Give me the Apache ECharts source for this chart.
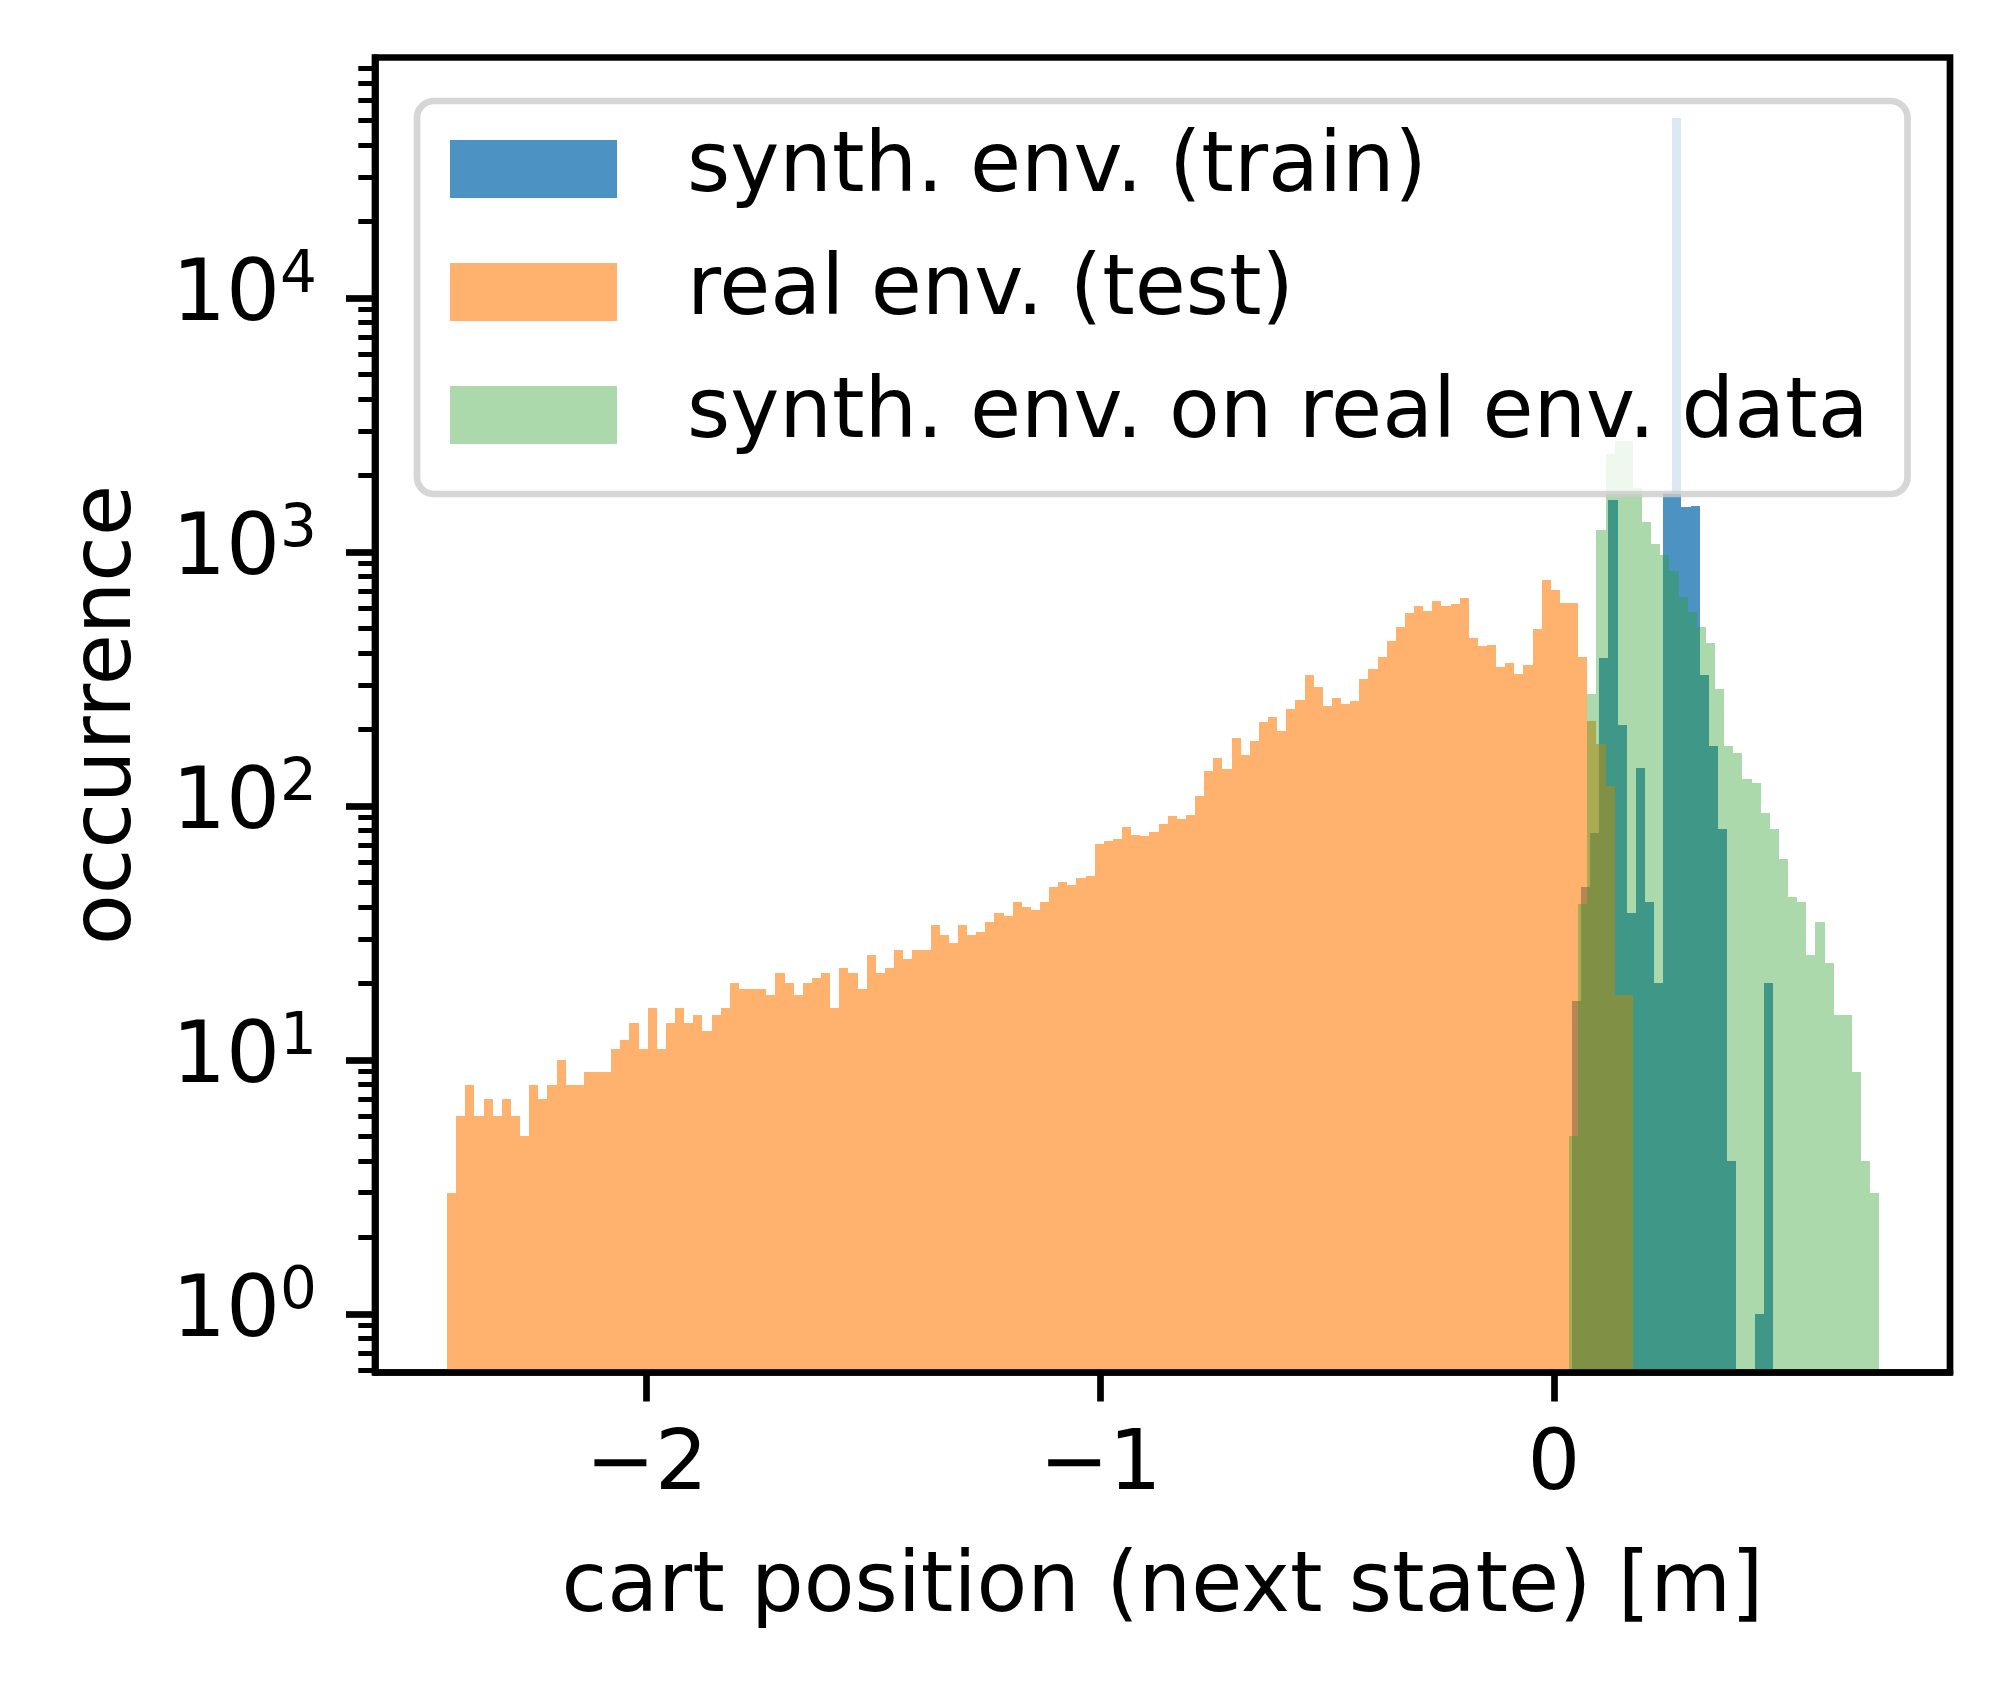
<!DOCTYPE html>
<html>
<head>
<meta charset="utf-8">
<script src="https://cdn.jsdelivr.net/npm/echarts@6/dist/echarts.min.js"></script>
<style>
  html, body { margin: 0; padding: 0; background: #fff; }
  #chart { width: 2010px; height: 1687px; }
</style>
</head>
<body>
<div id="chart"></div>
<script>
var font = "DejaVu Sans";

// histogram bins: first left edge, bin width, counts per bin
var realStart = -2.4402;
var realWidth = 0.02011;
var realCounts = [
  3, 6, 8, 6, 7, 6, 7, 6, 5, 8, 7, 8, 10, 8, 8, 9, 9, 9, 11, 12,
  14, 11, 16, 11, 14, 16, 14, 15, 13, 15, 16, 20, 19, 19, 19, 18, 22, 20, 18, 20,
  21, 22, 16, 23, 22, 19, 26, 22, 23, 27, 25, 27, 27, 34, 31, 29, 34, 31, 32, 35,
  38, 37, 42, 40, 39, 42, 48, 50, 49, 52, 53, 71, 73, 74, 83, 77, 76, 79, 85, 91,
  89, 92, 109, 137, 155, 140, 185, 159, 180, 214, 224, 197, 241, 261, 328, 294, 248, 266, 252, 259,
  316, 346, 386, 446, 507, 575, 613, 586, 641, 613, 624, 659, 459, 426, 430, 352, 366, 331, 359, 497,
  776, 709, 630, 630, 386, 216, 175, 120, 18, 18
];

var synthRealStart = 0.0333;
var synthRealWidth = 0.02011;
var synthRealCounts = [
  5, 41, 276, 1221, 2430, 2735, 2735, 1786, 1313, 1075, 973, 841, 665, 580, 507, 438, 289,
  172, 162, 128, 123, 94, 81, 62, 44, 42, 26, 35, 24, 15, 15, 9, 4, 3
];

var synthTrainStart = 0.0394;
var synthTrainWidth = 0.02014;
var synthTrainCounts = [
  17, 48, 78, 383, 1600, 208, 38, 141, 42, 20, 1700, 51300, 1507, 1518, 328, 172, 81, 4, 0, 0, 1, 20
];

var seriesNames = ["synth. env. (train)", "real env. (test)", "synth. env. on real env. data"];

var xTicks = [-2, -1, 0];
var yTicks = [1, 10, 100, 1000, 10000];
var yMinorTicks = [
  0.6, 0.7, 0.8, 0.9,
  2, 3, 4, 5, 6, 7, 8, 9,
  20, 30, 40, 50, 60, 70, 80, 90,
  200, 300, 400, 500, 600, 700, 800, 900,
  2000, 3000, 4000, 5000, 6000, 7000, 8000, 9000,
  20000, 30000, 40000, 50000, 60000, 70000, 80000
];

var xMin = -2.599, xMax = 0.873;
var yMin = 0.588, yMax = 88500;

function histSeries(name, start, width, counts, color) {
  var data = [];
  counts.forEach(function(c, i) {
    if (c > 0) data.push([start + i * width, start + (i + 1) * width, c]);
  });
  return {
    name: name,
    type: "custom",
    clip: true,
    data: data,
    encode: {x: [0, 1], y: 2},
    itemStyle: {color: color},
    renderItem: function(params, api) {
      var top = api.coord([api.value(0), api.value(2)]);
      var bottom = api.coord([api.value(1), yMin]);
      var x0 = Math.round(top[0]), x1 = Math.round(bottom[0]);
      var y0 = Math.round(top[1]), y1 = Math.round(bottom[1]);
      return {
        type: "rect",
        shape: {x: x0, y: y0, width: x1 - x0, height: y1 - y0},
        style: {fill: color}
      };
    }
  };
}

var chart = echarts.init(document.getElementById("chart"));

var option = {
  backgroundColor: "#fff",
  animation: false,
  grid: {
    left: 375, right: 60, top: 57.5, bottom: 314.5,
    show: true, borderColor: "#000", borderWidth: 6.7,
    containLabel: false, outerBoundsMode: "none"
  },
  legend: {
    orient: "vertical",
    left: 417, top: 101,
    padding: [26.5, 39, 37.5, 33],
    itemWidth: 167, itemHeight: 58, itemGap: 40,
    icon: "rect",
    selectedMode: false,
    backgroundColor: "rgba(255,255,255,0.8)",
    borderColor: "rgba(204,204,204,0.8)",
    borderWidth: 6.7,
    borderRadius: 17,
    textStyle: {
      fontFamily: font, fontSize: 83, color: "#000",
      padding: [0, 0, 0, 65]
    },
    data: seriesNames
  },
  xAxis: {
    type: "value",
    min: xMin, max: xMax,
    position: "bottom",
    z: 3,
    axisLine: {show: true, onZero: false, lineStyle: {color: "#000", width: 6.7}},
    axisTick: {show: true, length: 29, lineStyle: {color: "#000", width: 6.7}, customValues: xTicks},
    axisLabel: {
      customValues: xTicks,
      margin: 53,
      fontFamily: font, fontSize: 83, color: "#000",
      formatter: function(v) {
        return v < 0 ? "\u2212" + Math.abs(v) : String(v);
      }
    },
    splitLine: {show: false},
    name: "cart position (next state) [m]",
    nameLocation: "middle",
    nameGap: 175,
    nameTextStyle: {fontFamily: font, fontSize: 83, color: "#000"}
  },
  yAxis: [{
    type: "log",
    logBase: 10,
    min: yMin, max: yMax,
    position: "left",
    z: 3,
    axisLine: {show: true, onZero: false, lineStyle: {color: "#000", width: 6.7}},
    axisTick: {show: true, length: 29, lineStyle: {color: "#000", width: 6.7}, customValues: yTicks},
    axisLabel: {
      customValues: yTicks,
      margin: 58,
      formatter: function(v) {
        var e = Math.round(Math.log10(v));
        return "{b|10}{s|" + e + "}";
      },
      rich: {
        b: {fontFamily: font, fontSize: 85, color: "#000", lineHeight: 100},
        s: {fontFamily: font, fontSize: 58, color: "#000", lineHeight: 54, verticalAlign: "top"}
      }
    },
    splitLine: {show: false},
    name: "occurrence",
    nameLocation: "middle",
    nameRotate: 90,
    nameGap: 225,
    nameTextStyle: {fontFamily: font, fontSize: 83, color: "#000"}
  }, {
    type: "log",
    logBase: 10,
    min: yMin, max: yMax,
    position: "left",
    axisLine: {show: false, onZero: false},
    axisLabel: {show: false},
    splitLine: {show: false},
    axisTick: {show: true, length: 16.7, lineStyle: {color: "#000", width: 5}, customValues: yMinorTicks}
  }],
  series: [
    histSeries(seriesNames[0], synthTrainStart, synthTrainWidth, synthTrainCounts, "rgba(31,119,180,0.8)"),
    histSeries(seriesNames[1], realStart, realWidth, realCounts, "rgba(255,127,14,0.6)"),
    histSeries(seriesNames[2], synthRealStart, synthRealWidth, synthRealCounts, "rgba(44,160,44,0.4)")
  ]
};

chart.setOption(option);
</script>
</body>
</html>
